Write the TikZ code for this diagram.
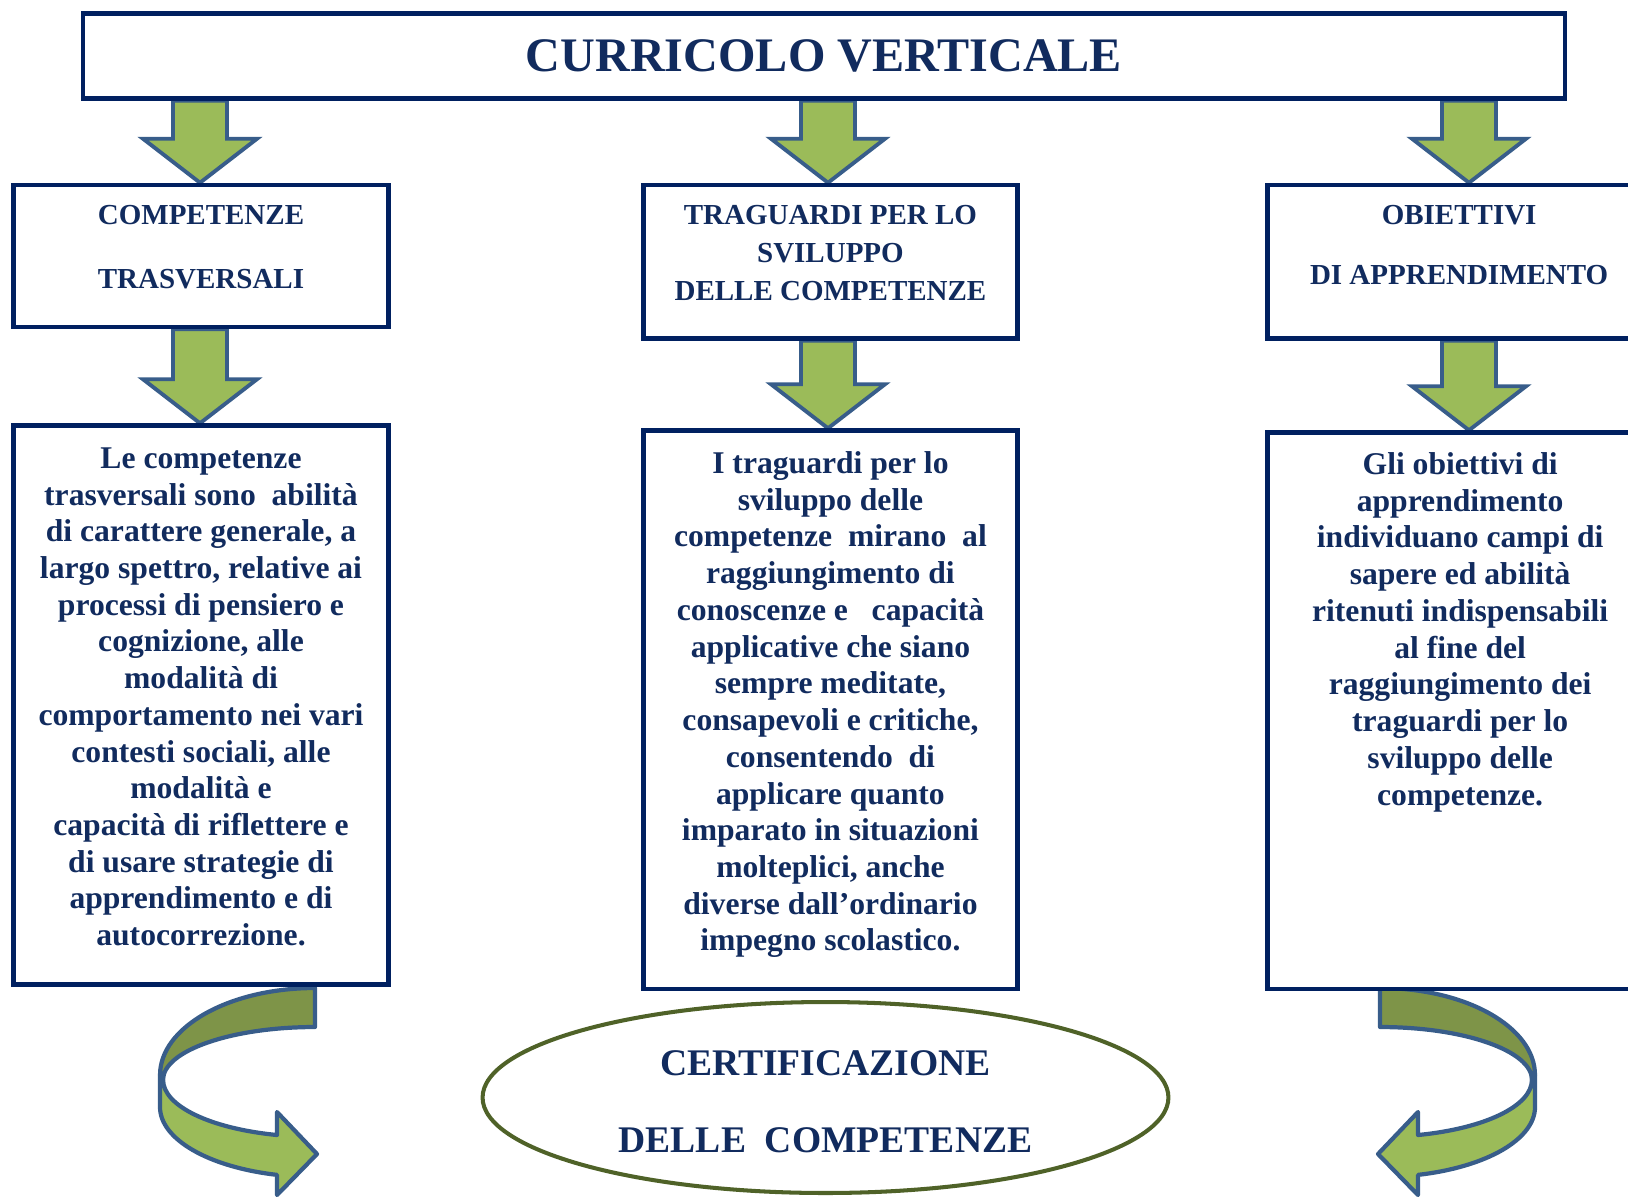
\documentclass[tikz,border=0pt]{standalone}
\usepackage{fontspec}
\setmainfont{Liberation Serif}
\usetikzlibrary{positioning,shapes.geometric,calc}
\definecolor{navy}{HTML}{002060}
\definecolor{inknavy}{HTML}{112B5E}
\definecolor{leaf}{HTML}{9BBB59}
\definecolor{leafdark}{HTML}{7E9448}
\definecolor{edgeblue}{HTML}{385D8A}
\definecolor{olive}{HTML}{4F6228}
\pgfdeclarelayer{back}
\pgfsetlayers{back,main}
\begin{document}
\begin{tikzpicture}[x=0.02cm, y=0.02cm,
    frame/.style = {draw=navy, line width=2.6pt, fill=white, rectangle, inner sep=0pt},
    hdrtext/.style = {text=inknavy, align=center, inner sep=0pt, font=\fontsize{16.5}{21.8}\selectfont\bfseries},
    bodytext/.style = {text=inknavy, align=center, inner sep=0pt, font=\fontsize{18}{20.9}\selectfont\bfseries},
    blockarrow/.style = {fill=leaf, draw=edgeblue, line width=2.2pt, line join=miter},
    uturn/.pic = {
        \filldraw[fill=leafdark, draw=edgeblue, line width=2.4pt, line join=round]
            (0,92) arc[start angle=90, end angle=180, x radius=3.1cm, y radius=1.74cm]
            -- (-152,0) arc[start angle=180, end angle=90, x radius=3.04cm, y radius=1.06cm] -- cycle;
        \filldraw[fill=leaf, draw=edgeblue, line width=2.4pt, line join=round]
            (-155,5) -- (-155,-27) arc[start angle=180, end angle=255.8, x radius=3.1cm, y radius=1.4cm]
            -- (-38,-115) -- (2,-74) -- (-38,-32) -- (-38,-55)
            arc[start angle=255.5, end angle=180, x radius=3.04cm, y radius=1.14cm] -- cycle;
    }]
    \useasboundingbox (0,0) rectangle (1628,-1197);
    % title and the three columns
    \node[frame, minimum width=29.64cm, minimum height=1.70cm, text=inknavy,
          font=\fontsize{27.4}{32}\selectfont\bfseries] (title) at (824,-56) {CURRICOLO VERTICALE};
    \node[frame, minimum width=7.51cm, minimum height=2.84cm] (comp) at (201,-256) {};
    \node[frame, minimum width=7.49cm, minimum height=3.07cm,
          right=5.0cm of comp.north east, anchor=north west] (trag) {};
    \node[frame, minimum width=7.5cm, minimum height=3.07cm,
          right=4.91cm of trag.north east, anchor=north west] (obj) {};
    \node[hdrtext, below=0.44cm of comp.north] (comptext) {COMPETENZE\\[14.5pt]TRASVERSALI};
    \node[hdrtext, below=0.44cm of trag.north] (tragtext) {TRAGUARDI PER LO\\SVILUPPO\\DELLE COMPETENZE};
    \node[hdrtext, below=0.44cm of obj.north, xshift=0.08cm] (objtext) {OBIETTIVI\\[12.2pt]DI APPRENDIMENTO};
    % descriptions
    \node[frame, minimum width=7.51cm, minimum height=11.18cm, below=1.88cm of comp] (compdesc) {};
    \node[frame, minimum width=7.49cm, minimum height=11.17cm, below=1.75cm of trag] (tragdesc) {};
    \node[frame, minimum width=7.5cm, minimum height=11.13cm, below=1.79cm of obj] (objdesc) {};
    \node[bodytext, below=0.48cm of compdesc.north] (compdesctext)
        {Le competenze\\
         trasversali sono~ abilità\\
         di carattere generale, a\\
         largo spettro, relative ai\\
         processi di pensiero e\\
         cognizione, alle\\
         modalità di\\
         comportamento nei vari\\
         contesti sociali, alle\\
         modalità e\\
         capacità di riflettere e\\
         di usare strategie di\\
         apprendimento e di\\
         autocorrezione.};
    \node[bodytext, below=0.46cm of tragdesc.north] (tragdesctext)
        {I traguardi per lo\\
         sviluppo delle\\
         competenze~ mirano~ al\\
         raggiungimento di\\
         conoscenze e~~ capacità\\
         applicative che siano\\
         sempre meditate,\\
         consapevoli e critiche,\\
         consentendo~ di\\
         applicare quanto\\
         imparato in situazioni\\
         molteplici, anche\\
         diverse dall’ordinario\\
         impegno scolastico.};
    \node[bodytext, below=0.44cm of objdesc.north, xshift=0.1cm] (objdesctext)
        {Gli obiettivi di\\
         apprendimento\\
         individuano campi di\\
         sapere ed abilità\\
         ritenuti indispensabili\\
         al fine del\\
         raggiungimento dei\\
         traguardi per lo\\
         sviluppo delle\\
         competenze.};
    \node[ellipse, draw=olive, line width=2.3pt, minimum width=13.72cm, minimum height=3.82cm, inner sep=0pt,
          text=inknavy, align=center, font=\fontsize{21.4}{25}\selectfont\bfseries] (cert) at (825.5,-1097.5)
        {\rule{0pt}{19pt}CERTIFICAZIONE\\[19pt]DELLE~ COMPETENZE};
    % block arrows
    \coordinate (c1) at (200,0);
    \coordinate (c2) at (828,0);
    \coordinate (c3) at (1469,0);
    \begin{pgfonlayer}{back}
        \foreach \col/\up/\down in {c1/title/comp, c2/title/trag, c3/title/obj,
                                    c1/comp/compdesc, c2/trag/tragdesc, c3/obj/objdesc}
            \draw[blockarrow] ($(\col |- \up.south)+(-27,0)$) -- ($(\col |- \down.north)+(-27,44)$)
                -- ++(-30,0) -- (\col |- \down.north) -- ++(57,44) -- ++(-30,0)
                -- ($(\col |- \up.south)+(27,0)$) -- cycle;
        \pic at (315,-1080) {uturn};
        \pic[xscale=-1] at (1380,-1080) {uturn};
    \end{pgfonlayer}
\end{tikzpicture}
\end{document}
